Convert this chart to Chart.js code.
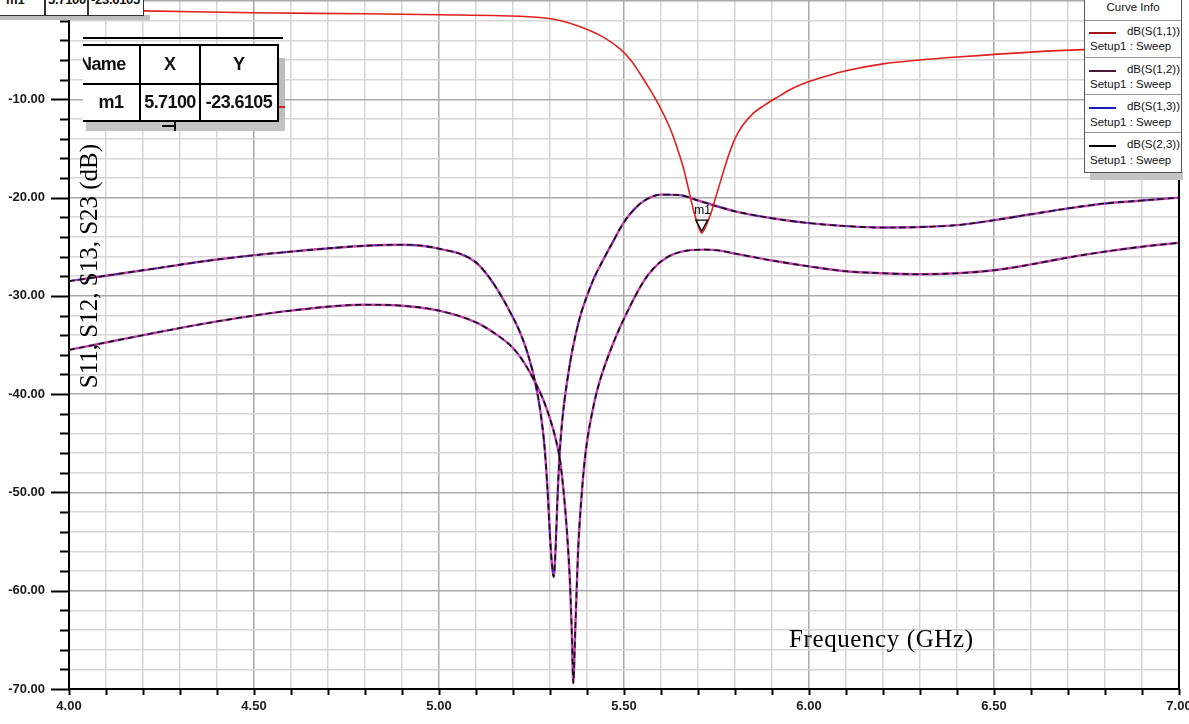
<!DOCTYPE html>
<html>
<head>
<meta charset="utf-8">
<script src="https://cdn.jsdelivr.net/npm/chart.js@4.4.1/dist/chart.umd.min.js"></script>
<style>
  html,body{margin:0;padding:0;background:#fff;}
  #wrap{position:relative;width:1189px;height:724px;overflow:hidden;background:#fff;}
  #c{position:absolute;left:0;top:0;}
  .abs{position:absolute;}
  .t{font-family:"Liberation Sans",Arial,sans-serif;color:#111;white-space:nowrap;}
  .serif{font-family:"Liberation Serif","Times New Roman",serif;color:#000;white-space:nowrap;}
</style>
</head>
<body>
<div id="wrap">
  <canvas id="c" width="1189" height="724"></canvas>

  <!-- cut marker table at top -->
  <div class="abs" style="left:0;top:15px;width:150px;height:5px;background:#bdbdbd;"></div>
  <div class="abs" style="left:-2px;top:-12px;width:144px;height:26px;background:#fff;border:1.5px solid #333;overflow:hidden;">
    <div class="abs" style="left:45px;top:0;width:1.5px;height:26px;background:#333;"></div>
    <div class="abs" style="left:88px;top:0;width:1.5px;height:26px;background:#333;"></div>
    <div class="abs t" style="left:7px;top:3px;font-size:13px;font-weight:bold;">m1</div>
    <div class="abs t" style="left:49px;top:3px;font-size:13px;font-weight:bold;letter-spacing:-0.3px;">5.7100</div>
    <div class="abs t" style="left:92px;top:3px;font-size:13px;font-weight:bold;letter-spacing:-0.3px;">-23.6105</div>
  </div>

  <!-- main marker table -->
  <div class="abs" style="left:83px;top:37px;width:200px;height:2px;background:#000;"></div>
  <div class="abs" style="left:277px;top:58px;width:8px;height:66px;background:#bdbdbd;"></div>
  <div class="abs" style="left:86px;top:120px;width:199px;height:11px;background:#c4c4c4;"></div>
  <div class="abs" style="left:162px;top:125px;width:13px;height:2px;background:#000;"></div>
  <div class="abs" style="left:174px;top:120px;width:2px;height:11px;background:#000;"></div>
  <div class="abs" style="left:279px;top:106px;width:6px;height:2px;background:#d22;"></div>
  <div class="abs" style="left:83px;top:44px;width:194px;height:74px;background:#fff;border-top:2px solid #000;border-right:2px solid #000;border-bottom:2px solid #000;overflow:hidden;">
    <div class="abs" style="left:0;top:37px;width:194px;height:2px;background:#000;"></div>
    <div class="abs" style="left:56px;top:0;width:2px;height:74px;background:#000;"></div>
    <div class="abs" style="left:116px;top:0;width:2px;height:74px;background:#000;"></div>
    <div class="abs t" style="left:-4px;top:8px;font-size:18px;font-weight:bold;letter-spacing:-0.6px;">Name</div>
    <div class="abs t" style="left:57px;width:60px;top:8px;text-align:center;font-size:18px;font-weight:bold;">X</div>
    <div class="abs t" style="left:118px;width:76px;top:8px;text-align:center;font-size:18px;font-weight:bold;">Y</div>
    <div class="abs t" style="left:0;width:56px;top:46px;text-align:center;font-size:18px;font-weight:bold;letter-spacing:-0.5px;">m1</div>
    <div class="abs t" style="left:57px;width:60px;top:46px;text-align:center;font-size:18px;font-weight:bold;letter-spacing:-0.6px;">5.7100</div>
    <div class="abs t" style="left:118px;width:76px;top:46px;text-align:center;font-size:18px;font-weight:bold;letter-spacing:-0.6px;">-23.6105</div>
  </div>

  <!-- Curve info legend -->
  <div class="abs" style="left:1090px;top:172px;width:93px;height:8px;background:#c4c4c4;"></div>
  <div class="abs" style="left:1084px;top:-2px;width:96px;height:174px;background:#fff;border-left:1.5px solid #555;border-right:1.5px solid #555;border-bottom:1.5px solid #555;">
    <div class="abs t" style="left:0;width:96px;top:3px;text-align:center;font-size:11.5px;">Curve Info</div>
    <div class="abs" style="left:0;top:22px;width:96px;height:1px;background:#999;"></div>

    <div class="abs" style="left:4px;top:34px;width:27px;height:2px;background:#a31515;"></div>
    <div class="abs t" style="right:1px;top:27px;font-size:11.5px;">dB(S(1,1))</div>
    <div class="abs t" style="left:5px;top:42px;font-size:11.5px;">Setup1 : Sweep</div>
    <div class="abs" style="left:0;top:59px;width:96px;height:1px;background:#999;"></div>

    <div class="abs" style="left:4px;top:72px;width:27px;height:2px;background:#4d1838;"></div>
    <div class="abs t" style="right:1px;top:65px;font-size:11.5px;">dB(S(1,2))</div>
    <div class="abs t" style="left:5px;top:80px;font-size:11.5px;">Setup1 : Sweep</div>
    <div class="abs" style="left:0;top:96px;width:96px;height:1px;background:#999;"></div>

    <div class="abs" style="left:4px;top:109px;width:27px;height:2px;background:#1c1cb8;"></div>
    <div class="abs t" style="right:1px;top:102px;font-size:11.5px;">dB(S(1,3))</div>
    <div class="abs t" style="left:5px;top:118px;font-size:11.5px;">Setup1 : Sweep</div>
    <div class="abs" style="left:0;top:134px;width:96px;height:1px;background:#999;"></div>

    <div class="abs" style="left:4px;top:147px;width:27px;height:2px;background:#000;"></div>
    <div class="abs t" style="right:1px;top:140px;font-size:11.5px;">dB(S(2,3))</div>
    <div class="abs t" style="left:5px;top:156px;font-size:11.5px;">Setup1 : Sweep</div>
  </div>

  <!-- axis titles -->
  <div class="abs serif" style="left:-61px;top:252px;width:300px;height:28px;line-height:28px;text-align:center;font-size:25px;transform:rotate(-90deg);transform-origin:150px 14px;">S11, S12, S13, S23 (dB)</div>
  <div class="abs serif" style="left:789px;top:625px;font-size:25px;line-height:28px;letter-spacing:0.6px;">Frequency (GHz)</div>
</div>

<script>
// ---------------- data ----------------
const freqS11 = [4.00,4.20,4.50,4.80,5.00,5.17,5.28,5.33,5.38,5.44,5.49,5.52,5.54,5.57,5.60,5.625,5.646,5.66,5.673,5.69,5.70,5.71,5.72,5.735,5.75,5.762,5.78,5.80,5.82,5.85,5.88,5.914,5.95,6.00,6.05,6.10,6.20,6.30,6.40,6.60,6.80,7.00];
const dbS11   = [-0.9,-1.0,-1.2,-1.3,-1.4,-1.5,-1.7,-2.0,-2.6,-3.6,-4.9,-6.1,-7.2,-9.0,-11.0,-13.0,-15.2,-16.9,-18.9,-21.6,-22.8,-23.61,-23.0,-21.6,-19.7,-18.2,-16.0,-14.0,-12.7,-11.4,-10.6,-9.8,-9.0,-8.2,-7.6,-7.1,-6.4,-6.0,-5.7,-5.2,-4.85,-4.6];

const freqS13 = [4.00,4.20,4.40,4.60,4.80,4.90,5.00,5.10,5.15,5.20,5.22,5.24,5.26,5.275,5.286,5.295,5.30,5.305,5.31,5.315,5.32,5.325,5.33,5.335,5.34,5.35,5.36,5.38,5.40,5.42,5.44,5.47,5.50,5.53,5.56,5.60,5.65,5.70,5.80,5.90,6.00,6.10,6.20,6.30,6.40,6.50,6.60,6.70,6.80,6.90,7.00];
const dbS13   = [-28.5,-27.4,-26.3,-25.5,-24.9,-24.8,-25.2,-26.6,-28.9,-32.2,-33.8,-35.9,-38.8,-42.0,-45.7,-50.8,-54.5,-57.2,-58.6,-55.8,-50.8,-46.7,-44.0,-42.0,-40.4,-37.8,-35.6,-32.3,-30.0,-28.1,-26.6,-24.5,-22.5,-21.1,-20.2,-19.7,-19.75,-20.3,-21.4,-22.1,-22.6,-22.9,-23.05,-23.0,-22.8,-22.3,-21.7,-21.1,-20.6,-20.3,-20.0];

const freqS12 = [4.00,4.20,4.40,4.60,4.80,4.90,5.00,5.10,5.15,5.20,5.23,5.257,5.28,5.30,5.315,5.327,5.337,5.346,5.354,5.359,5.363,5.368,5.376,5.3865,5.397,5.42,5.435,5.47,5.508,5.55,5.58,5.62,5.67,5.72,5.76,5.80,5.90,6.00,6.10,6.20,6.30,6.40,6.50,6.60,6.70,6.80,6.90,7.00];
const dbS12   = [-35.5,-34.0,-32.6,-31.5,-30.9,-31.0,-31.5,-32.7,-33.8,-35.3,-36.8,-38.6,-40.4,-42.5,-44.5,-46.7,-50.0,-54.1,-59.2,-64.3,-69.4,-64.3,-55.9,-49.8,-45.7,-40.8,-38.6,-34.9,-31.7,-28.7,-27.2,-26.0,-25.4,-25.3,-25.4,-25.7,-26.4,-27.0,-27.5,-27.7,-27.8,-27.7,-27.4,-26.8,-26.1,-25.5,-25.0,-24.6];

const markerName = ["m1"];
const markerX = [5.71];
const markerY = [-23.6105];

const xMin = 4.0, xMax = 7.0, xStep = 0.1;
const yMin = -70, yMax = 0, yStep = 2;

// ---------------- helpers ----------------
const pts = (xs, ys) => xs.map((x, i) => ({x, y: ys[i]}));
const isMajorX = v => Math.round(v * 10) % 5 === 0;
const isMajorY = v => Math.round(v) % 10 === 0;

const frame = {
  id: 'frame',
  afterDatasetsDraw(chart) {
    const ctx = chart.ctx;
    const xs = chart.scales.x, ys = chart.scales.y;
    ctx.save();
    for (let i = 0; i < markerX.length; i++) {
      const px = xs.getPixelForValue(markerX[i]);
      const py = ys.getPixelForValue(markerY[i]);
      ctx.strokeStyle = '#000';
      ctx.lineWidth = 1.3;
      ctx.beginPath();
      ctx.moveTo(px - 6, py - 13);
      ctx.lineTo(px + 6, py - 13);
      ctx.lineTo(px, py - 2);
      ctx.closePath();
      ctx.stroke();
      ctx.fillStyle = '#000';
      ctx.font = '12px "Liberation Sans", Arial, sans-serif';
      ctx.textAlign = 'center';
      ctx.textBaseline = 'middle';
      ctx.fillText(markerName[i], px + 1, py - 22);
    }
    ctx.restore();
  },
  afterDraw(chart) {
    const ctx = chart.ctx, a = chart.chartArea;
    const xs = chart.scales.x, ys = chart.scales.y;
    ctx.save();
    ctx.strokeStyle = '#000';
    ctx.lineWidth = 2;
    ctx.beginPath();
    ctx.moveTo(a.right, 0);
    ctx.lineTo(a.right, a.bottom);
    ctx.stroke();
    ys.ticks.forEach(t => {
      const py = Math.round(ys.getPixelForValue(t.value)) + 0.5;
      const len = isMajorY(t.value) ? 18 : 9;
      ctx.beginPath();
      ctx.moveTo(a.left - len, py);
      ctx.lineTo(a.left, py);
      ctx.stroke();
    });
    xs.ticks.forEach(t => {
      const px = Math.round(xs.getPixelForValue(t.value)) + 0.5;
      ctx.beginPath();
      ctx.moveTo(px, a.bottom);
      ctx.lineTo(px, a.bottom + 6);
      ctx.stroke();
    });
    ctx.restore();
  }
};

const MAG = '#c23fb4';
new Chart(document.getElementById('c'), {
  type: 'line',
  data: {
    datasets: [
      {label: 'dB(S(1,1))', data: pts(freqS11, dbS11), borderColor: '#e0201e', borderWidth: 1.6, order: 0},
      {label: 'dB(S(2,3))', data: pts(freqS13, dbS13), borderColor: '#111', borderWidth: 1.6, borderDash: [6, 4], order: 1},
      {label: 'dB(S(2,3)) b', data: pts(freqS12, dbS12), borderColor: '#111', borderWidth: 1.6, borderDash: [6, 4], order: 1},
      {label: 'dB(S(1,3))', data: pts(freqS13, dbS13), borderColor: '#2a2ad0', borderWidth: 1.6, borderDash: [3, 10], borderDashOffset: 5, order: 2},
      {label: 'dB(S(1,3)) base', data: pts(freqS13, dbS13), borderColor: MAG, borderWidth: 2.4, order: 3},
      {label: 'dB(S(1,2))', data: pts(freqS12, dbS12), borderColor: MAG, borderWidth: 2.4, order: 3}
    ]
  },
  options: {
    responsive: false,
    animation: false,
    events: [],
    layout: {padding: {left: 0, right: 10, top: 1, bottom: 0}},
    elements: {point: {radius: 0}, line: {cubicInterpolationMode: 'monotone', fill: false}},
    plugins: {legend: {display: false}, tooltip: {enabled: false}, title: {display: false}},
    scales: {
      x: {
        type: 'linear', min: xMin, max: xMax,
        afterFit(s) { s.height = 35; s.paddingLeft = 0; s.paddingRight = 0; },
        border: {display: true, color: '#000', width: 2},
        grid: {
          drawTicks: false,
          color: c => isMajorX(c.tick.value) ? '#a9a9a9' : '#d6d6d6',
          lineWidth: 1.5
        },
        ticks: {
          stepSize: xStep, autoSkip: false, maxRotation: 0, maxTicksLimit: 200, padding: 10,
          color: '#1a1a1a',
          font: {family: '"Liberation Sans", Arial, sans-serif', size: 13, weight: 'bold'},
          callback: v => isMajorX(v) ? v.toFixed(2) : ''
        }
      },
      y: {
        type: 'linear', min: yMin, max: yMax,
        afterFit(s) { s.width = 69; s.paddingTop = 0; s.paddingBottom = 0; },
        border: {display: true, color: '#000', width: 2},
        grid: {
          drawTicks: false,
          color: c => isMajorY(c.tick.value) ? '#a9a9a9' : '#d6d6d6',
          lineWidth: 1.5
        },
        ticks: {
          stepSize: yStep, autoSkip: false, maxTicksLimit: 200, padding: 24,
          color: '#1a1a1a',
          font: {family: '"Liberation Sans", Arial, sans-serif', size: 13, weight: 'bold'},
          callback: v => (isMajorY(v) && v !== 0) ? v.toFixed(2) : ''
        }
      }
    }
  },
  plugins: [frame]
});
</script>
</body>
</html>
